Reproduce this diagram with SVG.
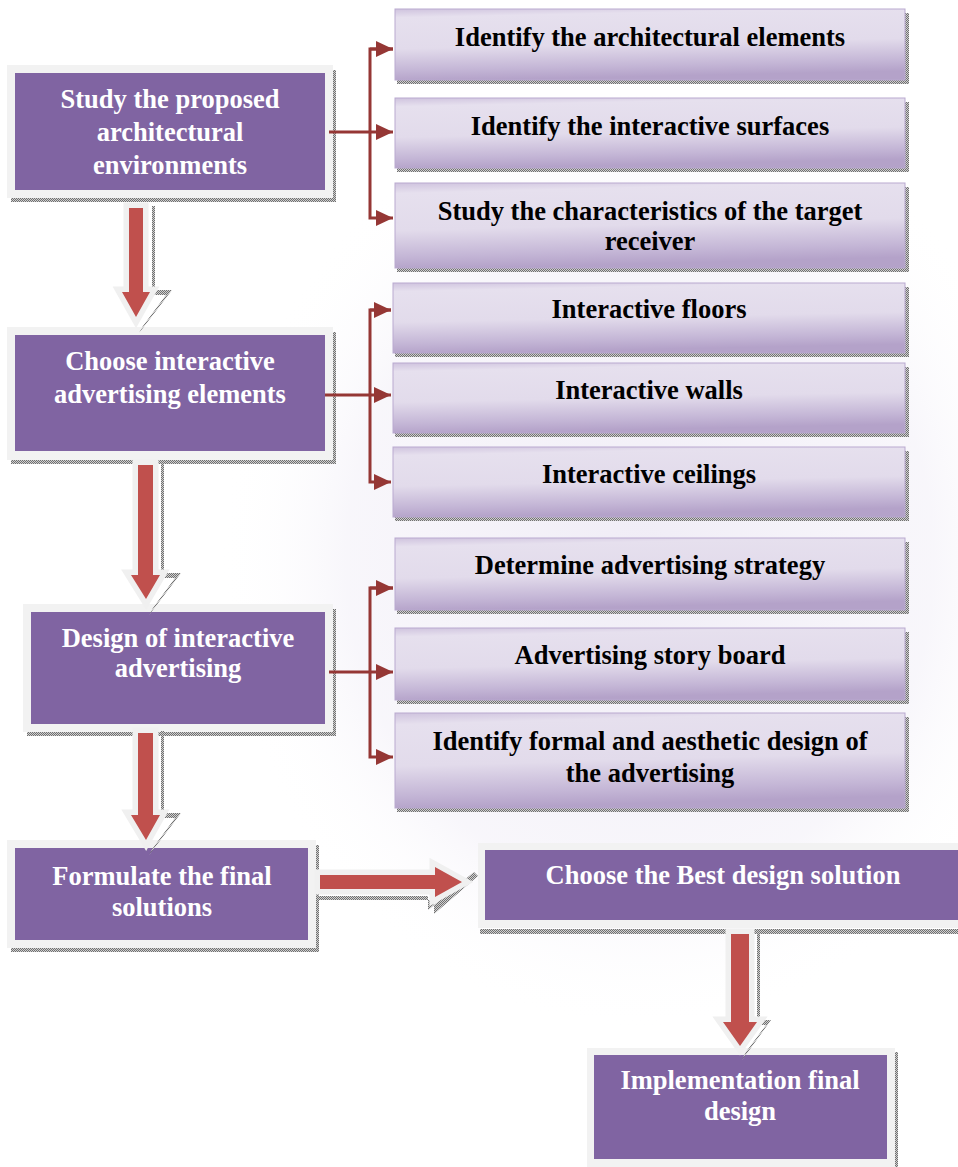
<svg xmlns="http://www.w3.org/2000/svg" width="958" height="1167" viewBox="0 0 958 1167">
<defs>
<style>
.frame{fill:#f2f2f2}
.lp{fill:#8064a2}
.rb{fill:url(#lav);stroke:#b9a9cf;stroke-width:1}
.sh{fill:url(#dots)}
.wt{font-family:"Liberation Serif","Times New Roman",serif;font-weight:bold;font-size:26.5px;fill:#ffffff;text-anchor:middle}
.bt{font-family:"Liberation Serif","Times New Roman",serif;font-weight:bold;font-size:26.5px;fill:#000000;text-anchor:middle}
.ln{fill:none;stroke:#953735;stroke-width:3}
.ba{fill:#c0504d;stroke:#f0f0f0;stroke-width:11;stroke-linejoin:miter;stroke-miterlimit:6;paint-order:stroke}
.bs{fill:url(#dots)}
</style>
<pattern id="dots" width="2" height="2" patternUnits="userSpaceOnUse">
<rect width="2" height="2" fill="#d0d0d0"/>
<rect width="1" height="1" fill="#707070"/>
<rect x="1" y="1" width="1" height="1" fill="#707070"/>
</pattern>
<linearGradient id="lav" x1="0" y1="0" x2="0.15" y2="1">
<stop offset="0" stop-color="#cfc3de"/>
<stop offset="0.12" stop-color="#e6e0ee"/>
<stop offset="0.55" stop-color="#e2dbeb"/>
<stop offset="0.85" stop-color="#c4b6d6"/>
<stop offset="1" stop-color="#b4a2c9"/>
</linearGradient>
<radialGradient id="bg" cx="0.5" cy="0.5" r="0.5">
<stop offset="0" stop-color="#ece8f4" stop-opacity="0.8"/>
<stop offset="0.7" stop-color="#f1eef7" stop-opacity="0.5"/>
<stop offset="1" stop-color="#ffffff" stop-opacity="0"/>
</radialGradient>
<marker id="ah" markerUnits="userSpaceOnUse" markerWidth="18" markerHeight="16" refX="17" refY="8" orient="auto">
<path d="M0,0 L17,8 L0,16 z" fill="#953735"/>
</marker>
</defs>
<rect width="958" height="1167" fill="#ffffff"/>
<ellipse cx="640" cy="560" rx="420" ry="470" fill="url(#bg)"/>

<!-- Left column nodes -->
<g id="n-study">
<rect class="sh" x="11" y="197" width="325" height="5"/>
<rect class="sh" x="332" y="70" width="4" height="132"/>
<rect class="frame" x="7" y="65" width="326" height="133"/>
<rect class="lp" x="15" y="73" width="310" height="117"/>
<text class="wt" x="170" y="108">Study the proposed</text>
<text class="wt" x="170" y="141">architectural</text>
<text class="wt" x="170" y="174">environments</text>
</g>
<g id="n-choose">
<rect class="sh" x="11" y="459" width="325" height="5"/>
<rect class="sh" x="332" y="332" width="4" height="132"/>
<rect class="frame" x="7" y="327" width="326" height="133"/>
<rect class="lp" x="15" y="335" width="310" height="116"/>
<text class="wt" x="170" y="370">Choose interactive</text>
<text class="wt" x="170" y="403">advertising elements</text>
</g>
<g id="n-design">
<rect class="sh" x="27" y="731" width="309" height="5"/>
<rect class="sh" x="332" y="609" width="4" height="127"/>
<rect class="frame" x="23" y="604" width="310" height="128"/>
<rect class="lp" x="31" y="612" width="294" height="112"/>
<text class="wt" x="178" y="647">Design of interactive</text>
<text class="wt" x="178" y="677">advertising</text>
</g>
<g id="n-formulate">
<rect class="sh" x="11" y="947" width="308" height="5"/>
<rect class="sh" x="315" y="845" width="4" height="107"/>
<rect class="frame" x="7" y="840" width="309" height="108"/>
<rect class="lp" x="15" y="848" width="293" height="92"/>
<text class="wt" x="162" y="885">Formulate the final</text>
<text class="wt" x="162" y="916">solutions</text>
</g>
<g id="n-best">
<rect class="sh" x="480" y="929" width="478" height="5"/>
<rect class="frame" x="478" y="843" width="480" height="85"/>
<rect class="lp" x="485" y="850" width="473" height="70"/>
<text class="wt" x="723" y="884">Choose the Best design solution</text>
</g>
<g id="n-impl">
<rect class="sh" x="894" y="1052" width="4" height="115"/>
<rect class="frame" x="587" y="1048" width="308" height="119"/>
<rect class="lp" x="594" y="1055" width="293" height="104"/>
<text class="wt" x="740" y="1089">Implementation final</text>
<text class="wt" x="740" y="1120">design</text>
</g>

<!-- Right column nodes -->
<g id="r1">
<rect class="sh" x="397" y="80" width="512" height="4"/>
<rect class="sh" x="905" y="13" width="4" height="71"/>
<rect class="rb" x="395" y="9" width="510" height="71"/>
<text class="bt" x="650" y="46">Identify the architectural elements</text>
</g>
<g id="r2">
<rect class="sh" x="397" y="168" width="512" height="4"/>
<rect class="sh" x="905" y="102" width="4" height="70"/>
<rect class="rb" x="395" y="98" width="510" height="70"/>
<text class="bt" x="650" y="135">Identify the interactive surfaces</text>
</g>
<g id="r3">
<rect class="sh" x="397" y="268" width="512" height="4"/>
<rect class="sh" x="905" y="187" width="4" height="85"/>
<rect class="rb" x="395" y="183" width="510" height="85"/>
<text class="bt" x="650" y="220">Study the characteristics of the target</text>
<text class="bt" x="650" y="250">receiver</text>
</g>
<g id="r4">
<rect class="sh" x="395" y="353" width="514" height="4"/>
<rect class="sh" x="905" y="287" width="4" height="70"/>
<rect class="rb" x="393" y="283" width="512" height="70"/>
<text class="bt" x="649" y="318">Interactive floors</text>
</g>
<g id="r5">
<rect class="sh" x="395" y="433" width="514" height="4"/>
<rect class="sh" x="905" y="367" width="4" height="70"/>
<rect class="rb" x="393" y="363" width="512" height="70"/>
<text class="bt" x="649" y="399">Interactive walls</text>
</g>
<g id="r6">
<rect class="sh" x="395" y="517" width="514" height="4"/>
<rect class="sh" x="905" y="451" width="4" height="70"/>
<rect class="rb" x="393" y="447" width="512" height="70"/>
<text class="bt" x="649" y="483">Interactive ceilings</text>
</g>
<g id="r7">
<rect class="sh" x="397" y="610" width="512" height="4"/>
<rect class="sh" x="905" y="542" width="4" height="72"/>
<rect class="rb" x="395" y="538" width="510" height="72"/>
<text class="bt" x="650" y="574">Determine advertising strategy</text>
</g>
<g id="r8">
<rect class="sh" x="397" y="700" width="512" height="4"/>
<rect class="sh" x="905" y="632" width="4" height="72"/>
<rect class="rb" x="395" y="628" width="510" height="72"/>
<text class="bt" x="650" y="664">Advertising story board</text>
</g>
<g id="r9">
<rect class="sh" x="397" y="808" width="512" height="4"/>
<rect class="sh" x="905" y="717" width="4" height="95"/>
<rect class="rb" x="395" y="713" width="510" height="95"/>
<text class="bt" x="650" y="750">Identify formal and aesthetic design of</text>
<text class="bt" x="650" y="782">the advertising</text>
</g>

<!-- Connectors -->
<g id="connectors">
<path class="ln" d="M329,132 H393" marker-end="url(#ah)"/>
<path class="ln" d="M393,49 H370 V218 H393" marker-end="url(#ah)"/>
<path class="ln" d="M370,49 H393" marker-end="url(#ah)"/>
<path class="ln" d="M325,395 H391" marker-end="url(#ah)"/>
<path class="ln" d="M391,310 H370 V482 H391" marker-end="url(#ah)"/>
<path class="ln" d="M370,310 H391" marker-end="url(#ah)"/>
<path class="ln" d="M329,672 H393" marker-end="url(#ah)"/>
<path class="ln" d="M393,588 H370 V757 H393" marker-end="url(#ah)"/>
<path class="ln" d="M370,588 H393" marker-end="url(#ah)"/>

<path class="bs" d="M150,206 H155 V290 H172 L139,333 L143,326 L166,295 H152 V206 z"/>
<path class="ba" d="M129,208 H143 V292 H150 L136,317 L122,292 H129 z"/>

<path class="bs" d="M159,463 H164 V573 H181 L149,615 L153,608 L175,578 H161 V463 z"/>
<path class="ba" d="M138,465 H153 V575 H160 L146,599 L131,575 H138 z"/>

<path class="bs" d="M159,731 H164 V813 H181 L149,855 L153,848 L175,818 H161 V731 z"/>
<path class="ba" d="M138,733 H153 V815 H160 L146,840 L131,815 H138 z"/>

<path class="bs" d="M318,896 H428 V910 L474,872 L478,876 L434,914 V900 H318 z"/>
<path class="ba" d="M320,875 H435 V867 L462,882 L435,897 V889 H320 z"/>

<path class="bs" d="M755,932 H760 V1020 H771 L742,1060 L746,1052 L766,1025 H757 V932 z"/>
<path class="ba" d="M731,934 H749 V1022 H757 L740,1046 L723,1022 H731 z"/>
</g>
</svg>
